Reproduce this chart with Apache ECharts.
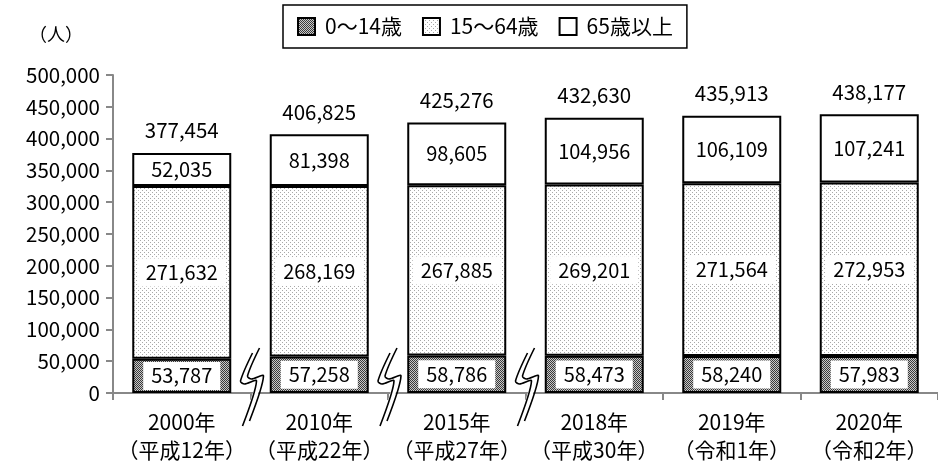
<!DOCTYPE html>
<html>
<head>
<meta charset="utf-8">
<script src="https://cdn.jsdelivr.net/npm/echarts@6/dist/echarts.min.js"></script>
<style>
  html, body { margin: 0; padding: 0; background: #fff; }
  #chart { width: 938px; height: 467px; }
</style>
</head>
<body>
<div id="chart"></div>
<script>
// データ
const categories = ['2000年\n（平成12年）', '2010年\n（平成22年）', '2015年\n（平成27年）', '2018年\n（平成30年）', '2019年\n（令和1年）', '2020年\n（令和2年）']
const age0to14 = [53787, 57258, 58786, 58473, 58240, 57983]
const age15to64 = [271632, 268169, 267885, 269201, 271564, 272953]
const age65over = [52035, 81398, 98605, 104956, 106109, 107241]
const totals = [377454, 406825, 425276, 432630, 435913, 438177]
const seriesNames = ['0～14歳', '15～64歳', '65歳以上']
// 波線（省略記号）を入れる境界：カテゴリ i と i+1 の間
const breakAfter = [0, 1, 2]

const FONT = '"Noto Sans CJK JP", "Noto Sans", sans-serif'

// パターン作成
function makePattern (size, draw) {
  const c = document.createElement('canvas')
  c.width = size
  c.height = size
  const ctx = c.getContext('2d')
  draw(ctx)
  return { image: c, repeat: 'repeat' }
}

const checkerPattern = makePattern(2, ctx => {
  ctx.fillStyle = '#c8c8c8'
  ctx.fillRect(0, 0, 2, 2)
  ctx.fillStyle = '#3a3a3a'
  ctx.fillRect(0, 0, 1, 1)
  ctx.fillRect(1, 1, 1, 1)
})

const dotPattern = makePattern(4, ctx => {
  ctx.fillStyle = '#fff'
  ctx.fillRect(0, 0, 4, 4)
  ctx.fillStyle = '#a8a8a8'
  ctx.fillRect(0, 0, 1, 1)
  ctx.fillRect(2, 2, 1, 1)
})

const fmt = v => v.toLocaleString('en-US')

const innerLabel = {
  show: true,
  position: 'inside',
  color: '#000',
  fontFamily: FONT,
  fontSize: 20,
  backgroundColor: '#fff',
  padding: [4, 8],
  formatter: p => fmt(p.value)
}

const barStyle = color => ({
  color: color,
  borderColor: '#000',
  borderWidth: 2
})

const myChart = echarts.init(document.getElementById('chart'))

const option = {
  animation: false,
  textStyle: { fontFamily: FONT },
  legend: {
    data: seriesNames,
    icon: 'rect',
    top: 5,
    left: 283,
    borderColor: '#000',
    borderWidth: 1.5,
    padding: [11, 14],
    itemWidth: 17,
    itemHeight: 17,
    itemGap: 20,
    textStyle: { color: '#000', fontSize: 21, fontFamily: FONT, padding: [0, 0, 0, 5] }
  },
  grid: {
    left: 113,
    right: -7,
    top: 75,
    bottom: 74,
    containLabel: false
  },
  xAxis: {
    type: 'category',
    data: categories,
    axisLine: { lineStyle: { color: '#888', width: 2 } },
    axisTick: { show: true, length: 7, lineStyle: { color: '#888', width: 2 } },
    axisLabel: {
      color: '#000',
      fontSize: 21,
      fontFamily: FONT,
      lineHeight: 28,
      margin: 15,
      interval: 0
    }
  },
  yAxis: {
    type: 'value',
    min: 0,
    max: 500000,
    interval: 50000,
    name: '（人）',
    nameLocation: 'end',
    nameGap: 32,
    nameTextStyle: { color: '#000', fontSize: 18, fontFamily: FONT, align: 'right', padding: [0, 30, 0, 0] },
    axisLine: { show: true, lineStyle: { color: '#888', width: 2 } },
    axisTick: { show: true, length: 7, lineStyle: { color: '#888', width: 2 } },
    axisLabel: {
      color: '#000',
      fontSize: 20.5,
      fontFamily: FONT,
      margin: 13,
      formatter: v => fmt(v)
    },
    splitLine: { show: false }
  },
  series: [
    {
      name: seriesNames[0],
      type: 'bar',
      stack: 'pop',
      barWidth: '72%',
      data: age0to14,
      itemStyle: barStyle(checkerPattern),
      label: innerLabel
    },
    {
      name: seriesNames[1],
      type: 'bar',
      stack: 'pop',
      barWidth: '72%',
      data: age15to64,
      itemStyle: barStyle(dotPattern),
      label: innerLabel
    },
    {
      name: seriesNames[2],
      type: 'bar',
      stack: 'pop',
      barWidth: '72%',
      data: age65over,
      itemStyle: barStyle('#fff'),
      label: innerLabel
    },
    {
      // 合計ラベル用
      name: 'total',
      type: 'bar',
      stack: 'pop',
      barWidth: '72%',
      data: totals.map(() => 0),
      itemStyle: { color: 'transparent', borderWidth: 0 },
      label: {
        show: true,
        position: 'top',
        distance: 12,
        color: '#000',
        fontSize: 20.5,
        fontFamily: FONT,
        formatter: p => fmt(totals[p.dataIndex])
      }
    }
  ]
}

myChart.setOption(option)

// 波線を描く
function drawBreaks () {
  const graphics = []
  breakAfter.forEach(i => {
    const a = myChart.convertToPixel({ gridIndex: 0 }, [i, 0])
    const b = myChart.convertToPixel({ gridIndex: 0 }, [i + 1, 0])
    const cx = (a[0] + b[0]) / 2
    const y0 = a[1]
    const left = [[2, -40], [-10, -12], [-6, -9], [6, -12], [-8, 33]]
    const right = left.map(p => [p[0] + 7, p[1] - 5])
    const L = left.map(p => [cx + p[0], y0 + p[1]])
    const R = right.map(p => [cx + p[0], y0 + p[1]])
    graphics.push({
      type: 'polygon',
      shape: { points: L.concat(R.slice().reverse()) },
      style: { fill: '#fff', stroke: null },
      z: 100
    })
    graphics.push({
      type: 'polyline',
      shape: { points: L, smooth: 0.3 },
      style: { stroke: '#000', lineWidth: 1.6, fill: null },
      z: 101
    })
    graphics.push({
      type: 'polyline',
      shape: { points: R, smooth: 0.3 },
      style: { stroke: '#000', lineWidth: 1.6, fill: null },
      z: 101
    })
  })
  myChart.setOption({ graphic: graphics })
}

drawBreaks()

window.addEventListener('resize', () => {
  myChart.resize()
  drawBreaks()
})
</script>
</body>
</html>
